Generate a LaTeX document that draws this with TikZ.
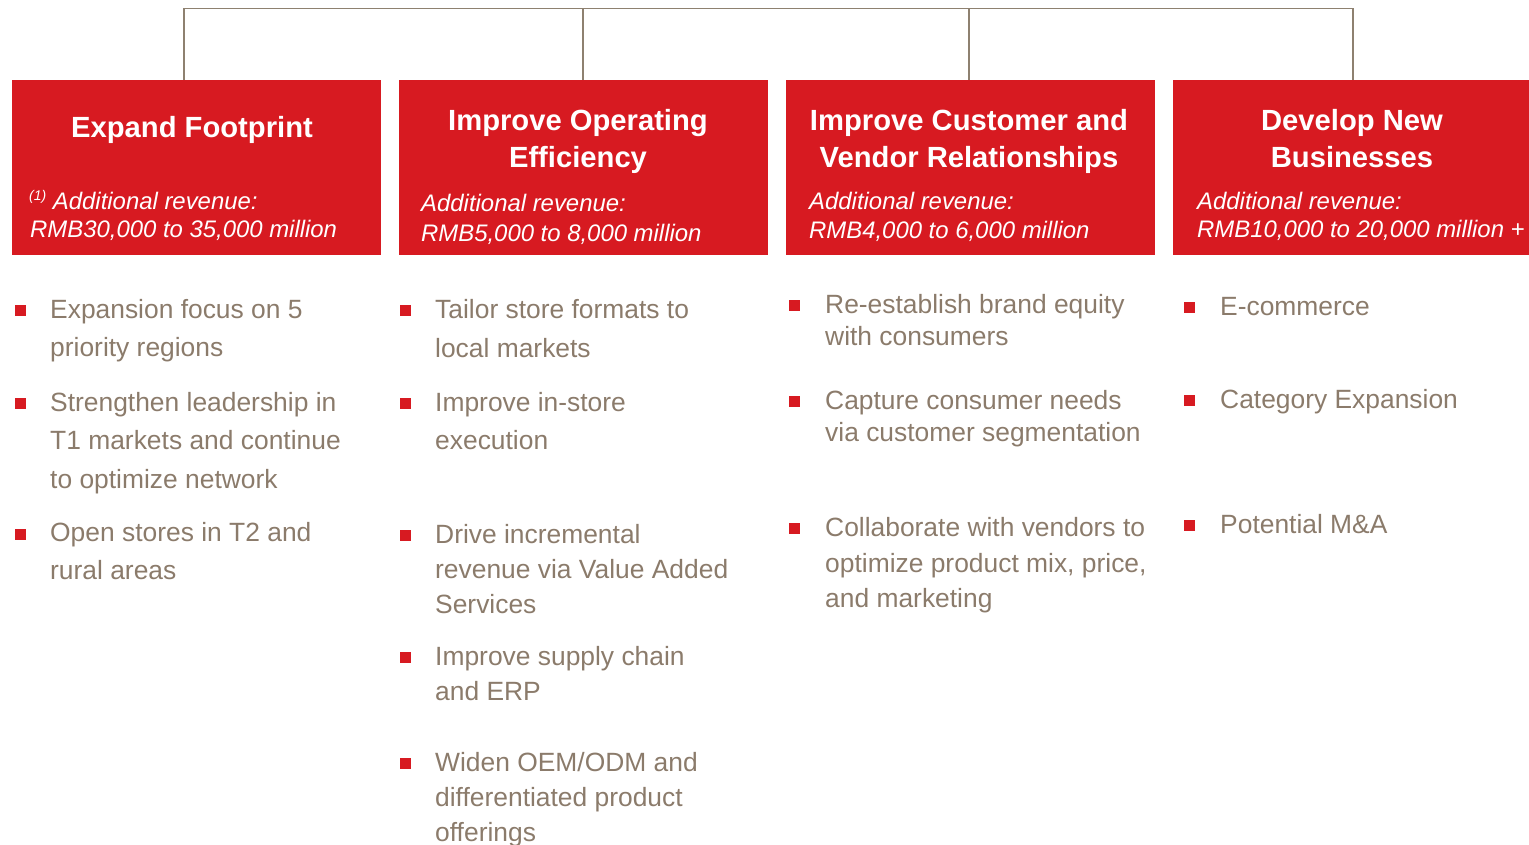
\documentclass[tikz,border=0pt]{standalone}
\usepackage{fontspec}
\setmainfont{Liberation Sans}
\definecolor{brandred}{HTML}{D71A21}
\definecolor{warmgray}{HTML}{8B7B6B}
\definecolor{linegray}{HTML}{8E8170}
\begin{document}
\begin{tikzpicture}[x=1pt,y=-1pt,
  box/.style={fill=brandred, draw=none, anchor=north west, inner sep=0, minimum height=175pt},
  ttl/.style={anchor=base, inner sep=0, text=white, font=\fontsize{29.2}{29.2}\selectfont\bfseries},
  rev/.style={anchor=base west, inner sep=0, text=white, font=\fontsize{23.9}{23.9}\selectfont\itshape},
  body/.style={anchor=base west, inner sep=0, text=warmgray, font=\fontsize{26.4}{26.4}\selectfont},
  bul/.style={fill=brandred, draw=none, inner sep=0, minimum size=11pt},
  conn/.style={draw=linegray, line width=1.5pt}]
\useasboundingbox (0,0) rectangle (1529,845);

% header boxes
\node[box, minimum width=369pt] (b1) at (12,80) {};
\node[box, minimum width=369pt] (b2) at (399,80) {};
\node[box, minimum width=369pt] (b3) at (786,80) {};
\node[box, minimum width=356pt] (b4) at (1173,80) {};

% connector bracket above the boxes
\coordinate (j1) at (184,8.5);
\coordinate (j2) at (583,8.5);
\coordinate (j3) at (969,8.5);
\coordinate (j4) at (1353,8.5);
\draw[conn] (j1 |- b1.north) -- (j1) -- (j4) -- (j4 |- b4.north);
\draw[conn] (j2) -- (j2 |- b2.north);
\draw[conn] (j3) -- (j3 |- b3.north);

% box titles
\node[ttl] (t1) at (192,138) {Expand Footprint};
\node[ttl] (t2a) at (578,131) {Improve Operating};
\node[ttl] (t2b) at (578,168) {Efficiency};
\node[ttl] (t3a) at (969,131) {Improve Customer and};
\node[ttl] (t3b) at (969,168) {Vendor Relationships};
\node[ttl] (t4a) at (1352,131) {Develop New};
\node[ttl] (t4b) at (1352,168) {Businesses};

% revenue targets
\node[rev] (r1a) at (29,210) {{\fontsize{14}{14}\selectfont\raisebox{9pt}{(1)}} Additional revenue:};
\node[rev] (r1b) at (30,238) {RMB30,000 to 35,000 million};
\node[rev] (r2a) at (421,212) {Additional revenue:};
\node[rev] (r2b) at (421,241) {RMB5,000 to 8,000 million};
\node[rev] (r3a) at (809,210) {Additional revenue:};
\node[rev] (r3b) at (809,239) {RMB4,000 to 6,000 million};
\node[rev] (r4a) at (1197,210) {Additional revenue:};
\node[rev] (r4b) at (1197,238) {RMB10,000 to 20,000 million +};

% bullet markers
\foreach \n/\y in {1/310, 2/403, 3/534}
  \node[bul] (m1\n) at (20,\y) {};
\foreach \n/\y in {1/310, 2/403, 3/535, 4/657, 5/763}
  \node[bul] (m2\n) at (405,\y) {};
\foreach \n/\y in {1/305, 2/401, 3/528}
  \node[bul] (m3\n) at (794,\y) {};
\foreach \n/\y in {1/307, 2/400, 3/525}
  \node[bul] (m4\n) at (1189,\y) {};

% bullet text, column 1
\foreach \n/\y/\t in {1/318/{Expansion focus on 5}, 2/356/{priority regions},
  3/411/{Strengthen leadership in}, 4/449/{T1 markets and continue}, 5/488/{to optimize network},
  6/541/{Open stores in T2 and}, 7/579/{rural areas}}
  \node[body] (c1l\n) at (50,\y) {\t};

% bullet text, column 2
\foreach \n/\y/\t in {1/318/{Tailor store formats to}, 2/357/{local markets},
  3/411/{Improve in-store}, 4/449/{execution},
  5/543/{Drive incremental}, 6/578/{revenue via Value Added}, 7/613/{Services},
  8/665/{Improve supply chain}, 9/700/{and ERP},
  10/771/{Widen OEM/ODM and}, 11/806/{differentiated product}, 12/841/{offerings}}
  \node[body] (c2l\n) at (435,\y) {\t};

% bullet text, column 3
\foreach \n/\y/\t in {1/313/{Re-establish brand equity}, 2/345/{with consumers},
  3/409/{Capture consumer needs}, 4/441/{via customer segmentation},
  5/536/{Collaborate with vendors to}, 6/572/{optimize product mix, price,}, 7/607/{and marketing}}
  \node[body] (c3l\n) at (825,\y) {\t};

% bullet text, column 4
\foreach \n/\y/\t in {1/315/{E-commerce}, 2/408/{Category Expansion}, 3/533/{Potential M\&A}}
  \node[body] (c4l\n) at (1220,\y) {\t};
\end{tikzpicture}
\end{document}
